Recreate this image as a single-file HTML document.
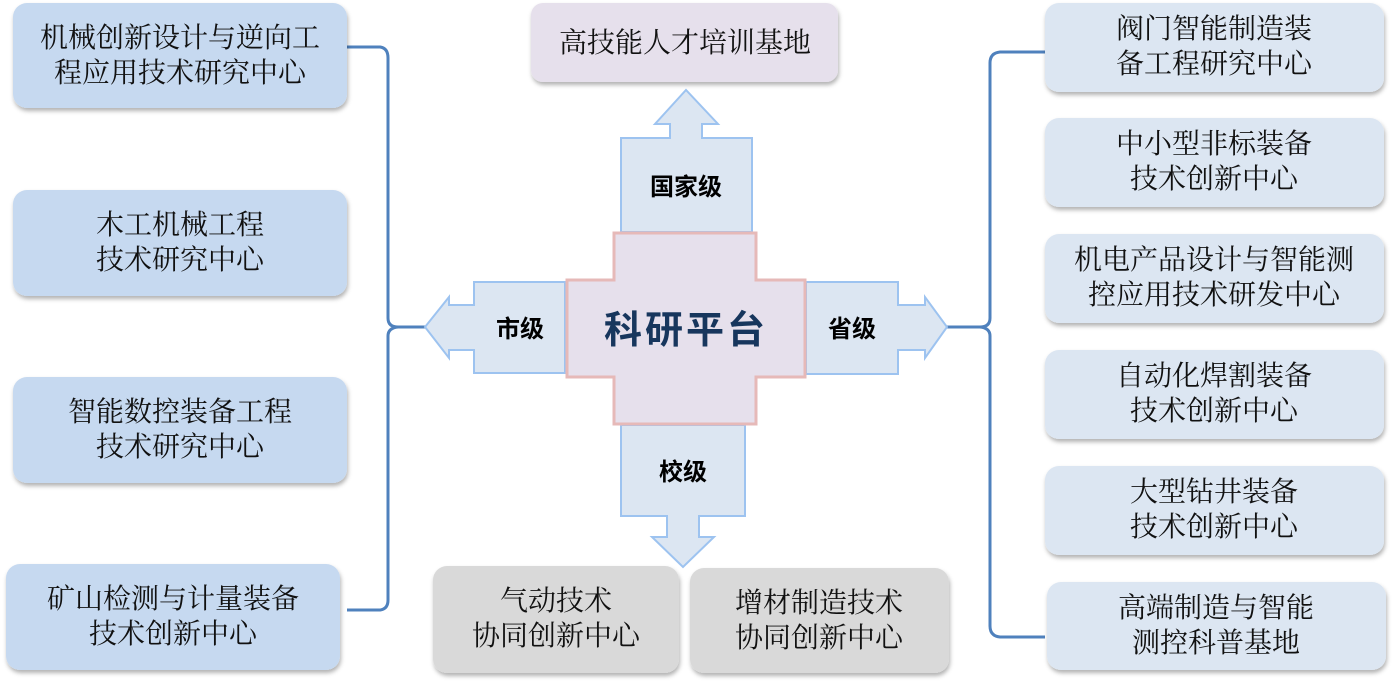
<!DOCTYPE html>
<html><head><meta charset="utf-8"><style>
html,body{margin:0;padding:0;background:#fff;width:1394px;height:685px;overflow:hidden}
svg text{font-family:"Noto Serif CJK SC","WenQuanYi Zen Hei",serif;font-size:28px;fill:#111;text-anchor:middle}
.b{font-family:"Liberation Sans","Noto Sans CJK SC",sans-serif;font-weight:bold;font-size:24px;fill:#000}
</style></head><body>
<svg width="1394" height="685" viewBox="0 0 1394 685">
<defs><filter id="s" x="-10%" y="-10%" width="120%" height="130%"><feDropShadow dx="1" dy="3" stdDeviation="2" flood-color="#000" flood-opacity="0.3"/></filter></defs>
<g fill="none" stroke="#4f81bd" stroke-width="3">
<path d="M347,47 L380,47 Q388,48 388,58 L388,318 Q388,327 398,327 L425,327"/>
<path d="M347,610 L380,610 Q388,609 388,600 L388,336 Q388,328 398,327"/>
<path d="M1045,52 L1000,52 Q990,53 990,63 L990,318 Q990,327 980,327 L947,327"/>
<path d="M1045,637 L1000,637 Q990,636 990,626 L990,336 Q990,328 980,327"/>
</g>
<g filter="url(#s)">
<rect x="13" y="3" width="334" height="105" rx="14" fill="#c6d9f0"/>
<rect x="13" y="190" width="334" height="106" rx="14" fill="#c6d9f0"/>
<rect x="13" y="377" width="334" height="106" rx="14" fill="#c6d9f0"/>
<rect x="6" y="564" width="334" height="106" rx="14" fill="#c6d9f0"/>
<rect x="531" y="3" width="307" height="79" rx="12" fill="#e6e0ec"/>
<rect x="1045" y="3" width="339" height="89" rx="14" fill="#dce6f2"/>
<rect x="1045" y="118" width="339" height="89" rx="14" fill="#dce6f2"/>
<rect x="1045" y="234" width="339" height="89" rx="14" fill="#dce6f2"/>
<rect x="1045" y="350" width="339" height="89" rx="14" fill="#dce6f2"/>
<rect x="1045" y="466" width="339" height="89" rx="14" fill="#dce6f2"/>
<rect x="1047" y="582" width="339" height="88" rx="14" fill="#dce6f2"/>
<rect x="433" y="566" width="246" height="107" rx="14" fill="#d9d9d9"/>
<rect x="690" y="568" width="259" height="105" rx="14" fill="#d9d9d9"/>
</g>
<g fill="#dce6f2" stroke="#9dc3f0" stroke-width="2">
<path d="M621,232 L621,138 L670,138 L670,124 L655,124 L686,90 L718,124 L702,124 L702,138 L752,138 L752,232 Z"/>
<path d="M565,282 L474,282 L474,305 L449,305 L449,297 L425,327 L449,358 L449,350 L474,350 L474,373 L565,373 Z"/>
<path d="M806,282 L898,282 L898,305 L925,305 L925,297 L947,327 L925,358 L925,350 L898,350 L898,374 L806,374 Z"/>
<path d="M621,425 L745,425 L745,516 L699,516 L699,537 L714,537 L683,567 L652,537 L667,537 L667,516 L621,516 Z"/>
</g>
<path d="M614,233 L756,233 L756,280 L805,280 L805,377 L756,377 L756,424 L614,424 L614,377 L567,377 L567,280 L614,280 Z" fill="#e6e0ec" stroke="#e6b9b8" stroke-width="3"/>
<text x="686" y="343" style="font-family:'Noto Sans CJK SC','Liberation Sans',sans-serif;font-weight:bold;font-size:38px;letter-spacing:3px;fill:#17365d">科研平台</text>
<text class="b" x="686" y="195">国家级</text>
<text class="b" x="520" y="337">市级</text>
<text class="b" x="852" y="337">省级</text>
<text class="b" x="683" y="480">校级</text>
<text x="180" y="47">机械创新设计与逆向工</text><text x="180" y="82">程应用技术研究中心</text>
<text x="180" y="234">木工机械工程</text><text x="180" y="269">技术研究中心</text>
<text x="180" y="421">智能数控装备工程</text><text x="180" y="456">技术研究中心</text>
<text x="173" y="608">矿山检测与计量装备</text><text x="173" y="643">技术创新中心</text>
<text x="685" y="52">高技能人才培训基地</text>
<text x="1214" y="38">阀门智能制造装</text><text x="1214" y="73">备工程研究中心</text>
<text x="1214" y="153">中小型非标装备</text><text x="1214" y="188">技术创新中心</text>
<text x="1214" y="269">机电产品设计与智能测</text><text x="1214" y="304">控应用技术研发中心</text>
<text x="1214" y="385">自动化焊割装备</text><text x="1214" y="420">技术创新中心</text>
<text x="1214" y="501">大型钻井装备</text><text x="1214" y="536">技术创新中心</text>
<text x="1216" y="617">高端制造与智能</text><text x="1216" y="652">测控科普基地</text>
<text x="556" y="610">气动技术</text><text x="556" y="645">协同创新中心</text>
<text x="819" y="612">增材制造技术</text><text x="819" y="647">协同创新中心</text>
</svg>
</body></html>
